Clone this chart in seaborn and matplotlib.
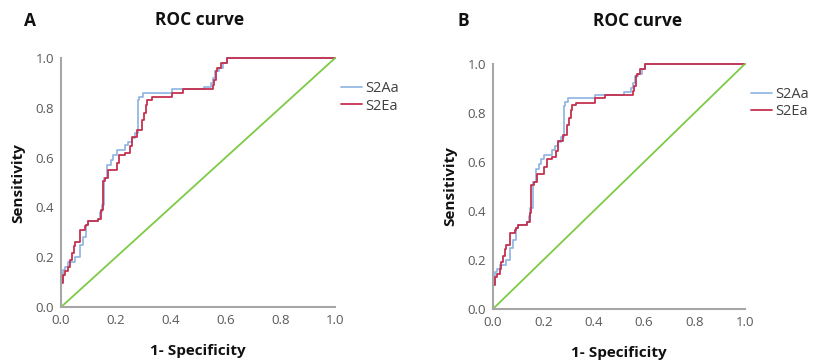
import matplotlib
matplotlib.use("Agg")
import matplotlib.pyplot as plt
import seaborn as sns
import pandas as pd

# ROC step vertices (x where the rise happens, new sensitivity)
fpr_s2aa = [0.0, 0.0, 0.006, 0.015, 0.027, 0.051, 0.069, 0.079, 0.091, 0.10, 0.136, 0.142, 0.148,
            0.157, 0.169, 0.181, 0.19, 0.203, 0.234, 0.246, 0.258, 0.27, 0.28, 0.286, 0.298, 0.404,
            0.52, 0.548, 0.555, 0.563, 0.575, 0.59, 0.605, 1.0]
tpr_s2aa = [0.0, 0.10, 0.15, 0.163, 0.18, 0.20, 0.25, 0.28, 0.33, 0.344, 0.355, 0.38, 0.41,
            0.52, 0.57, 0.59, 0.61, 0.63, 0.65, 0.665, 0.68, 0.70, 0.83, 0.845, 0.86, 0.875,
            0.885, 0.90, 0.92, 0.95, 0.96, 0.98, 1.0, 1.0]

fpr_s2ea = [0.0, 0.0, 0.009, 0.015, 0.027, 0.031, 0.039, 0.047, 0.051, 0.069, 0.088, 0.091, 0.10,
            0.136, 0.146, 0.152, 0.161, 0.173, 0.204, 0.213, 0.233, 0.25, 0.258, 0.276, 0.294,
            0.303, 0.31, 0.313, 0.331, 0.404, 0.446, 0.555, 0.559, 0.567, 0.571, 0.585, 0.605, 1.0]
tpr_s2ea = [0.0, 0.096, 0.13, 0.143, 0.163, 0.19, 0.217, 0.244, 0.26, 0.31, 0.324, 0.33, 0.344,
            0.353, 0.39, 0.505, 0.52, 0.55, 0.58, 0.61, 0.62, 0.645, 0.685, 0.71, 0.75,
            0.78, 0.81, 0.833, 0.842, 0.86, 0.875, 0.89, 0.91, 0.95, 0.96, 0.98, 1.0, 1.0]

ref_x = [0.0, 1.0]
ref_y = [0.0, 1.0]

series_names = ["S2Aa", "S2Ea"]
panel_letters = ["A", "B"]
panel_title = "ROC curve"
tick_vals = [0.0, 0.2, 0.4, 0.6, 0.8, 1.0]
tick_labels = ["0.0", "0.2", "0.4", "0.6", "0.8", "1.0"]

sns.set_theme(style="white")
plt.rcParams["font.family"] = ["Open Sans", "DejaVu Sans"]

c_blue = "#8db3e2"
c_red = "#c4314f"
c_green = "#7dcb45"
c_spine = "#a6a6a6"
c_tick = "#595959"

fig = plt.figure(figsize=(8.18, 3.63), dpi=100)

axes_rects = [[0.0746, 0.154, 0.335, 0.686], [0.6027, 0.149, 0.308, 0.675]]
title_pos = [(200 / 818, 1 - 20 / 363), (638 / 818, 1 - 21 / 363)]
letter_pos = [(30 / 818, 1 - 21 / 363), (463 / 818, 1 - 21 / 363)]

df_a = pd.DataFrame({"fpr": fpr_s2aa, "tpr": tpr_s2aa})
df_e = pd.DataFrame({"fpr": fpr_s2ea, "tpr": tpr_s2ea})
df_r = pd.DataFrame({"x": ref_x, "y": ref_y})

for i, rect in enumerate(axes_rects):
    ax = fig.add_axes(rect)
    sns.lineplot(data=df_a, x="fpr", y="tpr", estimator=None, sort=False, ax=ax,
                 color=c_blue, lw=1.2, drawstyle="steps-post", label=series_names[0])
    sns.lineplot(data=df_e, x="fpr", y="tpr", estimator=None, sort=False, ax=ax,
                 color=c_red, lw=1.3, drawstyle="steps-post", label=series_names[1])
    sns.lineplot(data=df_r, x="x", y="y", estimator=None, sort=False, ax=ax,
                 color=c_green, lw=1.3)
    for ln in ax.get_lines():
        ln.set_clip_on(False)
    ax.set_xlim(0, 1.0)
    ax.set_ylim(0, 1.0)
    ax.set_xticks(tick_vals)
    ax.set_xticklabels(tick_labels)
    ax.set_yticks(tick_vals)
    ax.set_yticklabels(tick_labels)
    ax.tick_params(length=0, labelsize=9.5, colors=c_tick, pad=5)
    sns.despine(ax=ax)
    for s in ["left", "bottom"]:
        ax.spines[s].set_color(c_spine)
        ax.spines[s].set_linewidth(1.5)
    ax.set_xlabel("1- Specificity", fontsize=11, fontweight="bold", color="#111111", labelpad=12)
    ax.set_ylabel("Sensitivity", fontsize=11, fontweight="bold", color="#111111", labelpad=7)
    leg = ax.legend(loc="upper left", bbox_to_anchor=(1.0, 0.93), frameon=False,
                    fontsize=10.5, handlelength=1.45, labelspacing=0.15, handletextpad=0.25,
                    borderaxespad=0.0)
    for t in leg.get_texts():
        t.set_color("#404040")
    fig.text(title_pos[i][0], title_pos[i][1], panel_title, fontsize=12.5, fontweight="bold",
             ha="center", va="center", color="#111111")
    fig.text(letter_pos[i][0], letter_pos[i][1], panel_letters[i], fontsize=12.5,
             fontweight="bold", ha="center", va="center", color="#111111")

fig.savefig("out.png", dpi=100, facecolor="white")
